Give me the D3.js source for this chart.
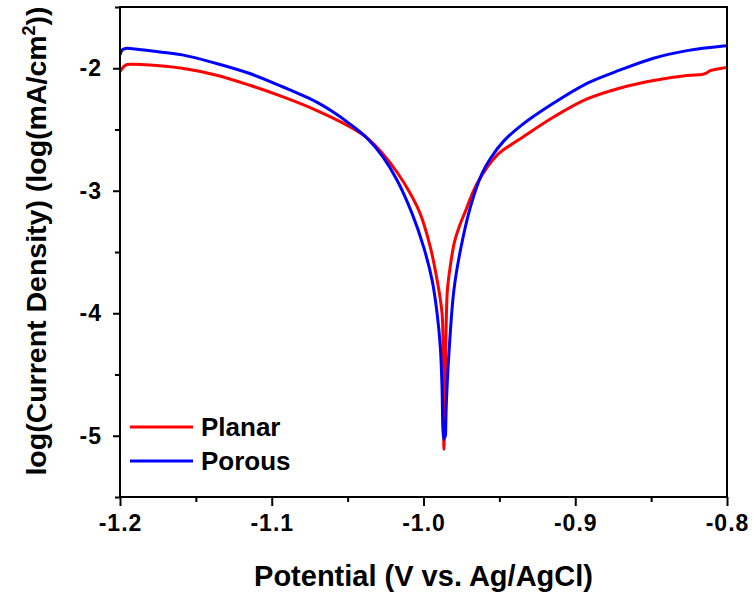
<!DOCTYPE html>
<html>
<head>
<meta charset="utf-8">
<script src="https://cdn.jsdelivr.net/npm/d3@7"></script>
<style>
  body { margin: 0; background: #fff; }
  text { font-family: Arial, "Liberation Sans", sans-serif; font-weight: bold; fill: #000; }
  .axis path, .axis line { stroke: #000; stroke-width: 2; }
</style>
</head>
<body>
<div id="chart"></div>
<script>
// potential (V) and log current density for each sample
var planar = [
  [-1.2, -2.028], [-1.1963, -1.975], [-1.192, -1.967], [-1.180, -1.973], [-1.159, -2.000],
  [-1.137, -2.055], [-1.115, -2.137], [-1.093, -2.232], [-1.071, -2.341], [-1.0493, -2.472],
  [-1.038, -2.560], [-1.0277, -2.685], [-1.0174, -2.849], [-1.0088, -3.021], [-1.0022, -3.187],
  [-0.9955, -3.460], [-0.9910, -3.732], [-0.98775, -4.005], [-0.98709, -4.387], [-0.98676, -4.878],
  [-0.98656, -5.11], [-0.98590, -4.714], [-0.98524, -4.223], [-0.98426, -3.814], [-0.98228, -3.610],
  [-0.97964, -3.421], [-0.97635, -3.290], [-0.97240, -3.168], [-0.9647, -2.941], [-0.95152, -2.709],
  [-0.94058, -2.611], [-0.93616, -2.575], [-0.91423, -2.398], [-0.89222, -2.251], [-0.87029, -2.161],
  [-0.84835, -2.100], [-0.82635, -2.059], [-0.81647, -2.051], [-0.8137, -2.04], [-0.8110, -2.020],
  [-0.8011, -1.995], [-0.8, -1.993]
];
var porous = [
  [-1.2, -1.891], [-1.1985, -1.85], [-1.1964, -1.838], [-1.190, -1.842], [-1.180, -1.858],
  [-1.159, -1.891], [-1.137, -1.959], [-1.115, -2.041], [-1.093, -2.151], [-1.071, -2.273],
  [-1.0600, -2.354], [-1.0493, -2.448], [-1.037, -2.573], [-1.027, -2.72], [-1.0174, -2.914],
  [-1.0075, -3.187], [-0.9999, -3.460], [-0.9943, -3.732], [-0.9910, -4.005], [-0.9889, -4.278],
  [-0.9878, -4.60], [-0.9872, -4.95], [-0.9866, -5.03], [-0.9861, -4.90], [-0.9856, -5.01],
  [-0.9850, -4.75], [-0.9834, -4.360], [-0.980, -3.814], [-0.9757, -3.487], [-0.9691, -3.133],
  [-0.9614, -2.859], [-0.95593, -2.737], [-0.94717, -2.595], [-0.93616, -2.472], [-0.91423, -2.284],
  [-0.8922, -2.123], [-0.8703, -2.014], [-0.8484, -1.918], [-0.8263, -1.856], [-0.8022, -1.818],
  [-0.8, -1.816]
];
var seriesNames = ["Planar", "Porous"];
var seriesColors = ["#ff0000", "#0000ff"];
var xTicks = [-1.2, -1.1, -1.0, -0.9, -0.8];
var xMinor = [-1.15, -1.05, -0.95, -0.85];
var yTicks = [-2, -3, -4, -5];
var yMinor = [-1.5, -2.5, -3.5, -4.5, -5.5];

var margin = { top: 7, left: 120, bottom: 97, right: 27 };
var width = 754 - margin.left - margin.right;
var height = 594 - margin.top - margin.bottom;

var svg = d3.select("#chart").append("svg")
    .attr("width", 754)
    .attr("height", 594)
    .append("g")
    .attr("transform", "translate(" + margin.left + "," + margin.top + ")");

var x = d3.scaleLinear().domain([-1.2, -0.8]).range([0, width]);
var y = d3.scaleLinear().domain([-5.5, -1.5]).range([height, 0]);

svg.append("clipPath").attr("id", "clip")
    .append("rect").attr("width", width).attr("height", height);

var line = d3.line()
    .x(function (d) { return x(d[0]); })
    .y(function (d) { return y(d[1]); })
    .curve(d3.curveCatmullRom.alpha(0.5));

[planar, porous].forEach(function (data, i) {
    svg.append("path")
        .datum(data)
        .attr("clip-path", "url(#clip)")
        .attr("fill", "none")
        .attr("stroke", seriesColors[i])
        .attr("stroke-width", 3)
        .attr("stroke-linejoin", "round")
        .attr("d", line);
});

// frame
svg.append("rect")
    .attr("width", width).attr("height", height)
    .attr("fill", "none").attr("stroke", "#000").attr("stroke-width", 2);

// x axis
svg.append("g").attr("class", "axis")
    .attr("transform", "translate(0," + height + ")")
    .call(d3.axisBottom(x).tickValues(xMinor).tickSize(5).tickFormat(""))
    .select(".domain").remove();
var xAxisG = svg.append("g").attr("class", "axis")
    .attr("transform", "translate(0," + height + ")")
    .call(d3.axisBottom(x).tickValues(xTicks).tickSize(9).tickPadding(9)
        .tickFormat(function (d) { return d3.format(".1f")(d).replace("−", "-"); }));
xAxisG.select(".domain").remove();

// y axis
svg.append("g").attr("class", "axis")
    .call(d3.axisLeft(y).tickValues(yMinor).tickSize(5).tickFormat(""))
    .select(".domain").remove();
var yAxisG = svg.append("g").attr("class", "axis")
    .call(d3.axisLeft(y).tickValues(yTicks).tickSize(7).tickPadding(11)
        .tickFormat(function (d) { return String(d); }));
yAxisG.select(".domain").remove();

[xAxisG, yAxisG].forEach(function (g) {
    g.selectAll("text")
        .style("font-family", "Arial, 'Liberation Sans', sans-serif")
        .style("font-weight", "bold")
        .style("font-size", "23px")
        .style("letter-spacing", "1px");
});

// axis titles
svg.append("text")
    .attr("x", width / 2)
    .attr("y", 579)
    .attr("text-anchor", "middle")
    .style("font-size", "29px")
    .text("Potential (V vs. Ag/AgCl)");

var yl = svg.append("text")
    .attr("transform", "translate(" + (46 - margin.left) + "," + (241 - margin.top) + ") rotate(-90)")
    .attr("text-anchor", "middle")
    .style("font-size", "28.5px");
yl.append("tspan").text("log(Current Density) (log(mA/cm");
yl.append("tspan").attr("dy", -11).style("font-size", "18px").text("2");
yl.append("tspan").attr("dy", 11).text("))");

// legend
var legend = svg.selectAll(".legend")
    .data(seriesNames)
    .enter().append("g")
    .attr("class", "legend")
    .attr("transform", function (d, i) { return "translate(0," + (420 + i * 34) + ")"; });
legend.append("line")
    .attr("x1", 10).attr("x2", 73)
    .attr("stroke", function (d, i) { return seriesColors[i]; })
    .attr("stroke-width", 3);
legend.append("text")
    .attr("x", 81).attr("y", 9)
    .style("font-size", "26px")
    .text(function (d) { return d; });
</script>
</body>
</html>
